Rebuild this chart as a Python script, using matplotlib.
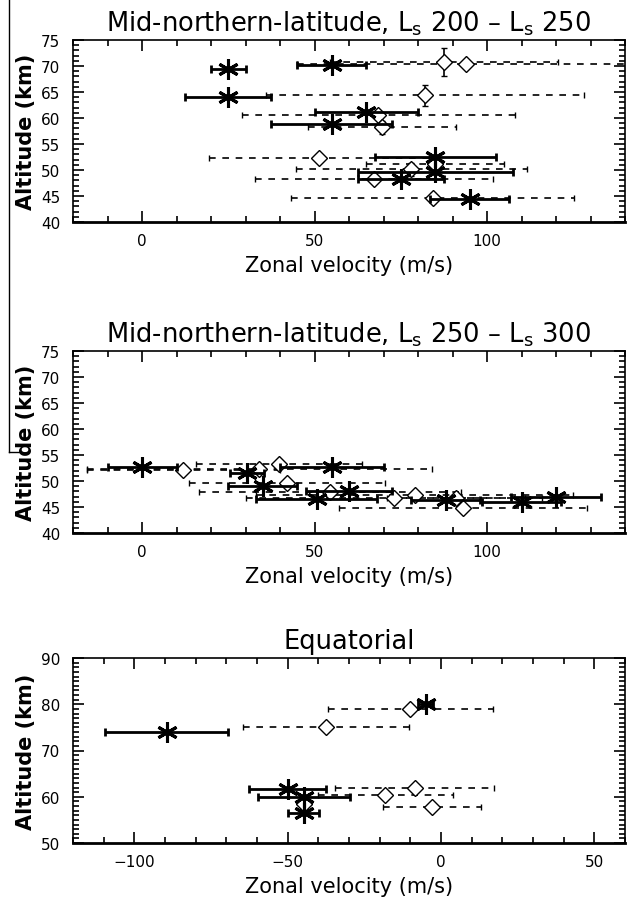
import numpy as np
import matplotlib
matplotlib.use("Agg")
import matplotlib.pyplot as plt
from matplotlib.ticker import MultipleLocator

# ---- panel 1: mid-northern latitude, Ls 200-250
p1_star_v = [25, 55, 25, 65, 55, 85, 85, 75, 95]
p1_star_alt = [69.5, 70.1, 64.1, 61.1, 58.8, 52.5, 49.6, 48.3, 44.4]
p1_star_err = [5, 10, 12.5, 15, 17.5, 17.5, 22.5, 12.5, 11.5]
p1_dia_v = [87.5, 94, 82, 68.5, 69.5, 51.3, 85, 78, 67.3, 84.3]
p1_dia_alt = [70.7, 70.4, 64.4, 60.6, 58.2, 52.4, 51.2, 50.1, 48.2, 44.6]
p1_dia_err = [33, 49, 46, 39.5, 21.5, 32, 20, 33.5, 34.5, 41]
p1_dia_yerr = [2.7, 0.8, 2, 0.8, 1.2, 0.5, 0.8, 1.2, 0.6, 1]

# ---- panel 2: mid-northern latitude, Ls 250-300
p2_star_v = [0, 30.5, 35, 55, 50.6, 60, 88, 110, 120]
p2_star_alt = [52.6, 51.6, 49.0, 52.6, 46.5, 48.1, 46.4, 46.0, 46.9]
p2_star_err = [10, 5, 10, 15, 17.5, 12.5, 10, 11.5, 13]
p2_dia_v = [12, 34, 39.7, 42, 54.4, 73, 79, 91, 93]
p2_dia_alt = [52.2, 52.4, 53.2, 49.7, 47.9, 46.8, 47.4, 46.8, 44.9]
p2_dia_err = [28, 50, 24, 28.5, 38, 43, 46, 20, 36]
p2_dia_yerr = [0.5, 0.5, 0.5, 0.5, 0.5, 0.5, 0.5, 0.5, 0.5]

# ---- panel 3: equatorial
p3_star_v = [-5, -89.5, -50, -44.7, -44.8]
p3_star_alt = [80, 74, 61.6, 60, 56.5]
p3_star_err = [2.5, 20, 12.5, 15, 5]
p3_dia_v = [-10, -37.5, -8.6, -18.2, -3, -44.8]
p3_dia_alt = [79, 75, 62, 60.3, 57.7, 58.5]
p3_dia_err = [27, 27, 26, 22, 16, 0]
p3_dia_yerr = [0.5, 0.5, 0.5, 0.5, 0.5, 0.5]

titles = ["Mid-northern-latitude, L$_\\mathrm{s}$ 200 \u2013 L$_\\mathrm{s}$ 250",
          "Mid-northern-latitude, L$_\\mathrm{s}$ 250 \u2013 L$_\\mathrm{s}$ 300",
          "Equatorial"]

fig = plt.figure(figsize=(6.29, 9.03), dpi=100)
W, H = 629.0, 903.0


def add_panel(top, bottom, xlim, ylim, ymaj, xmaj=50):
    ax = fig.add_axes([73 / W, 1 - bottom / H, (625 - 73) / W, (bottom - top) / H])
    ax.set_xlim(*xlim)
    ax.set_ylim(*ylim)
    ax.xaxis.set_major_locator(MultipleLocator(xmaj))
    ax.xaxis.set_minor_locator(MultipleLocator(10))
    ax.yaxis.set_major_locator(MultipleLocator(ymaj))
    ax.yaxis.set_minor_locator(MultipleLocator(1))
    ax.tick_params(which="both", direction="in", top=True, right=True,
                   width=1.2, labelsize=11)
    ax.tick_params(which="major", length=8)
    ax.tick_params(which="minor", length=4)
    ax.tick_params(axis="x", pad=8)
    ax.tick_params(axis="y", pad=9)
    for s in ax.spines.values():
        s.set_linewidth(1.2)
    ax.spines["bottom"].set_linewidth(2)
    ax.set_xlabel("Zonal velocity (m/s)", fontsize=15, labelpad=5)
    ax.set_ylabel("Altitude (km)", fontsize=15, fontweight="bold", labelpad=4)
    return ax


def draw(ax, sv, sa, se, dv, da, de, dy):
    eb = ax.errorbar(dv, da, xerr=de, yerr=dy, fmt="D", ms=8, mfc="white",
                     mec="black", mew=1.0, ecolor="black", elinewidth=1.2,
                     capsize=2, capthick=1.2, zorder=2)
    eb[2][0].set_linestyle((0, (4, 4)))
    ax.errorbar(sv, sa, xerr=se, fmt="none", ecolor="black",
                elinewidth=2, capsize=3, capthick=2, zorder=3)
    ax.plot(sv, sa, ls="none", marker=(6, 2, 0), ms=15, mec="black",
            mew=2.2, zorder=4)


ax1 = add_panel(41, 223, (-20, 140), (40, 75), 5)
draw(ax1, p1_star_v, p1_star_alt, p1_star_err,
     p1_dia_v, p1_dia_alt, p1_dia_err, p1_dia_yerr)
ax2 = add_panel(352, 534, (-20, 140), (40, 75), 5)
draw(ax2, p2_star_v, p2_star_alt, p2_star_err,
     p2_dia_v, p2_dia_alt, p2_dia_err, p2_dia_yerr)
ax3 = add_panel(659, 844, (-120, 60), (50, 90), 10)
draw(ax3, p3_star_v, p3_star_alt, p3_star_err,
     p3_dia_v, p3_dia_alt, p3_dia_err, p3_dia_yerr)

for ax, t in zip([ax1, ax2, ax3], titles):
    ax.set_title(t, fontsize=18.5, pad=7)

# cropped border line at the left edge of the original page
fig.add_artist(plt.Line2D([9 / W, 9 / W], [1, 1 - 453 / H], color="black", lw=1))
fig.add_artist(plt.Line2D([9 / W, 20 / W], [1 - 453 / H, 1 - 453 / H], color="black", lw=1))

fig.savefig("out.png", dpi=100)
